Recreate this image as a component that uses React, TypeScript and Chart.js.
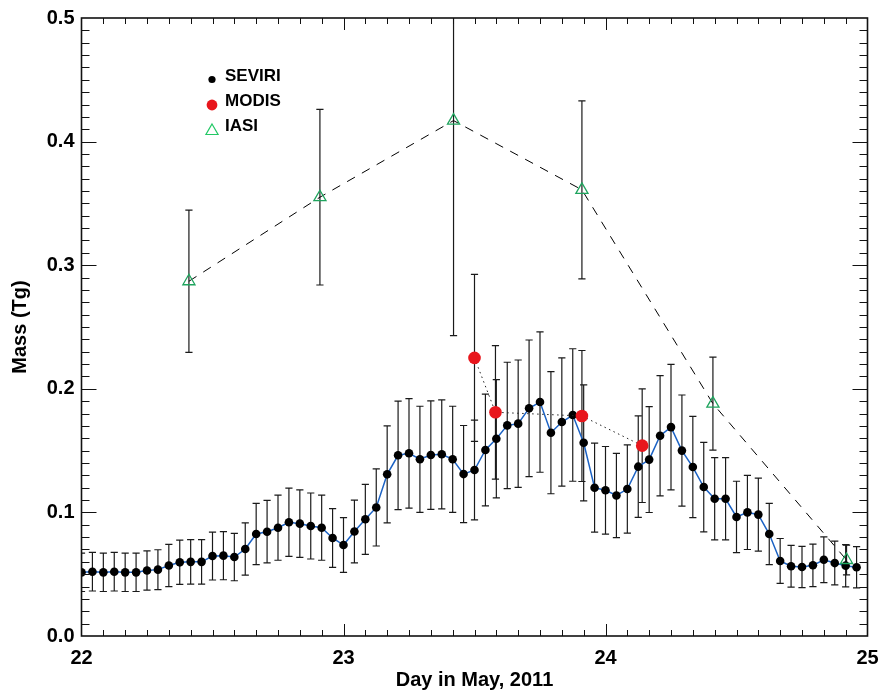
import React, { useEffect, useRef } from "react";
import { Chart, registerables } from "chart.js";

Chart.register(...registerables);

// ---------- data ----------
const SEVIRI_START_DAY = 22; // first SEVIRI retrieval: 22 May 00 UTC
const SEVIRI_STEP_DAYS = 1 / 24; // hourly retrievals
const SEVIRI_MASS = [
  0.0515, 0.052, 0.0515, 0.052, 0.0515, 0.0515, 0.053, 0.0537, 0.057, 0.0596, 0.06, 0.06,
  0.0647, 0.065, 0.0639, 0.0704, 0.0825, 0.0844, 0.0876, 0.092, 0.0909, 0.089, 0.0876, 0.0793,
  0.0736, 0.0846, 0.0944, 0.104, 0.1308, 0.1462, 0.1478, 0.143, 0.1464, 0.147, 0.143, 0.131,
  0.1343, 0.1505, 0.1596, 0.1704, 0.1718, 0.1842, 0.1893, 0.1645, 0.1731, 0.1788, 0.1563, 0.12,
  0.1179, 0.1137, 0.1189, 0.137, 0.1427, 0.162, 0.169, 0.15, 0.1367, 0.1205, 0.111, 0.111,
  0.0963, 0.1, 0.0982, 0.0825, 0.0607, 0.0564, 0.0558, 0.0572, 0.0617, 0.059, 0.0569, 0.0556,
];
const SEVIRI_ERR = [
  0.0155, 0.0156, 0.0155, 0.0156, 0.0155, 0.0155, 0.0159, 0.0161, 0.0171, 0.0179, 0.018, 0.018,
  0.0194, 0.0195, 0.0192, 0.0211, 0.0248, 0.0253, 0.0263, 0.0276, 0.0273, 0.0267, 0.0263, 0.0238,
  0.0221, 0.0254, 0.0283, 0.0312, 0.0392, 0.0439, 0.0443, 0.0429, 0.0439, 0.0441, 0.0429, 0.0393,
  0.0403, 0.0452, 0.0479, 0.0511, 0.0515, 0.0553, 0.0568, 0.0494, 0.0519, 0.0536, 0.0469, 0.036,
  0.0354, 0.0341, 0.0357, 0.0411, 0.0428, 0.0486, 0.0507, 0.045, 0.041, 0.0362, 0.0333, 0.0333,
  0.0289, 0.03, 0.0295, 0.0248, 0.0182, 0.0169, 0.0167, 0.0172, 0.0185, 0.0177, 0.0171, 0.0167,
];

const MODIS_DAY = [23.5, 23.58, 23.91, 24.14];
const MODIS_MASS = [0.225, 0.181, 0.178, 0.154];
const MODIS_ERR = [0.0675, 0.054, 0.053, 0.046];

const IASI_DAY = [22.41, 22.91, 23.42, 23.91, 24.41, 24.92];
const IASI_MASS = [0.287, 0.355, 0.417, 0.361, 0.188, 0.0615];
const IASI_ERR_LOW = [0.0575, 0.071, 0.174, 0.072, 0.0376, 0.012];
const IASI_ERR_HIGH = [0.0575, 0.071, 0.174, 0.072, 0.0376, 0.012];

const X_MIN = 22;
const X_MAX = 25;
const Y_MIN = 0;
const Y_MAX = 0.5;
const X_MAJOR_STEP = 1;
const X_MINOR_STEP = 1 / 12;
const Y_MAJOR_STEP = 0.1;
const Y_MINOR_STEP = 0.01;

const LEGEND_LABELS = ["SEVIRI", "MODIS", "IASI"];
const X_TITLE = "Day in May, 2011";
const Y_TITLE = "Mass (Tg)";

// ---------- styles ----------
const FONT = "'Liberation Sans', Arial, Helvetica, sans-serif";
const BLUE = "#1b62c4";
const RED = "#e8161c";
const GREEN = "#1fa45e";

const seviriPoints = SEVIRI_MASS.map((y, i) => ({ x: SEVIRI_START_DAY + i * SEVIRI_STEP_DAYS, y }));
const modisPoints = MODIS_MASS.map((y, i) => ({ x: MODIS_DAY[i], y }));
const iasiPoints = IASI_MASS.map((y, i) => ({ x: IASI_DAY[i], y }));

const errorBarPlugin = {
  id: "errorBars",
  beforeDatasetsDraw(chart: any) {
    const { ctx, chartArea, scales } = chart;
    const xs = scales.x;
    const ys = scales.y;
    ctx.save();
    ctx.beginPath();
    ctx.rect(chartArea.left, chartArea.top, chartArea.right - chartArea.left, chartArea.bottom - chartArea.top);
    ctx.clip();
    ctx.strokeStyle = "#1a1a1a";
    ctx.lineWidth = 1.2;
    chart.data.datasets.forEach((ds: any) => {
      if (!ds.errLow) return;
      ds.data.forEach((p: any, i: number) => {
        const px = xs.getPixelForValue(p.x);
        const top = ys.getPixelForValue(p.y + ds.errHigh[i]);
        const bot = ys.getPixelForValue(p.y - ds.errLow[i]);
        const cap = 3.6;
        ctx.beginPath();
        ctx.moveTo(px, top);
        ctx.lineTo(px, bot);
        ctx.moveTo(px - cap, top);
        ctx.lineTo(px + cap, top);
        ctx.moveTo(px - cap, bot);
        ctx.lineTo(px + cap, bot);
        ctx.stroke();
      });
    });
    ctx.restore();
  },
};

const framePlugin = {
  id: "frame",
  afterDraw(chart: any) {
    const { ctx, chartArea, scales } = chart;
    const { left, right, top, bottom } = chartArea;
    const xs = scales.x;
    const ys = scales.y;
    ctx.save();
    ctx.strokeStyle = "#111";
    ctx.lineWidth = 1;
    ctx.beginPath();
    // y ticks (left & right)
    const nY = Math.round((Y_MAX - Y_MIN) / Y_MINOR_STEP);
    const perMajorY = Math.round(Y_MAJOR_STEP / Y_MINOR_STEP);
    for (let k = 1; k < nY; k++) {
      const py = Math.round(ys.getPixelForValue(Y_MIN + k * Y_MINOR_STEP)) + 0.5;
      const len = k % perMajorY === 0 ? 15 : 8;
      ctx.moveTo(left, py);
      ctx.lineTo(left + len, py);
      ctx.moveTo(right, py);
      ctx.lineTo(right - len, py);
    }
    // x ticks (bottom & top)
    const nX = Math.round((X_MAX - X_MIN) / X_MINOR_STEP);
    const perMajorX = Math.round(X_MAJOR_STEP / X_MINOR_STEP);
    for (let k = 1; k < nX; k++) {
      const px = Math.round(xs.getPixelForValue(X_MIN + k * X_MINOR_STEP)) + 0.5;
      const len = k % perMajorX === 0 ? 12 : 6;
      ctx.moveTo(px, bottom);
      ctx.lineTo(px, bottom - len);
      ctx.moveTo(px, top);
      ctx.lineTo(px, top + len);
    }
    ctx.stroke();
    ctx.lineWidth = 1.6;
    ctx.strokeRect(left, top, right - left, bottom - top);

    // legend
    const lx = 212;
    const rows = [78, 103, 128];
    ctx.font = `bold 17px ${FONT}`;
    ctx.textBaseline = "middle";
    ctx.textAlign = "left";
    // SEVIRI
    ctx.beginPath();
    ctx.arc(lx, rows[0] + 1.5, 3.6, 0, Math.PI * 2);
    ctx.fillStyle = "#000";
    ctx.fill();
    // MODIS
    ctx.beginPath();
    ctx.arc(lx, rows[1] + 2, 5.4, 0, Math.PI * 2);
    ctx.fillStyle = RED;
    ctx.fill();
    // IASI
    const tr = 7;
    const ty = rows[2] + 3;
    ctx.beginPath();
    ctx.moveTo(lx, ty - tr);
    ctx.lineTo(lx + tr * Math.sin((2 * Math.PI) / 3), ty - tr * Math.cos((2 * Math.PI) / 3));
    ctx.lineTo(lx + tr * Math.sin((4 * Math.PI) / 3), ty - tr * Math.cos((4 * Math.PI) / 3));
    ctx.closePath();
    ctx.strokeStyle = "#22c865";
    ctx.lineWidth = 1.2;
    ctx.stroke();
    ctx.fillStyle = "#000";
    LEGEND_LABELS.forEach((t, i) => ctx.fillText(t, 225, rows[i] - 2));
    ctx.restore();
  },
};

export default function App() {
  const canvasRef = useRef<HTMLCanvasElement | null>(null);

  useEffect(() => {
    const canvas = canvasRef.current;
    if (!canvas) return;
    const chart = new Chart(canvas, {
      type: "line",
      data: {
        datasets: [
          {
            label: "IASI",
            data: iasiPoints,
            borderColor: "#000",
            borderWidth: 1,
            borderDash: [9, 8],
            pointStyle: "triangle",
            pointRadius: 7,
            pointBorderColor: GREEN,
            pointBackgroundColor: "rgba(0,0,0,0)",
            pointBorderWidth: 1.3,
            tension: 0,
            errLow: IASI_ERR_LOW,
            errHigh: IASI_ERR_HIGH,
          } as any,
          {
            label: "MODIS",
            data: modisPoints,
            borderColor: "#222",
            borderWidth: 1,
            borderDash: [1.5, 3.5],
            pointRadius: 6.3,
            pointBorderWidth: 0,
            pointBackgroundColor: RED,
            tension: 0,
            errLow: MODIS_ERR,
            errHigh: MODIS_ERR,
          } as any,
          {
            label: "SEVIRI",
            data: seviriPoints,
            borderColor: BLUE,
            borderWidth: 1.5,
            pointRadius: 4.3,
            pointBorderWidth: 0,
            pointBackgroundColor: "#000",
            tension: 0,
            errLow: SEVIRI_ERR,
            errHigh: SEVIRI_ERR,
          } as any,
        ],
      },
      options: {
        responsive: false,
        animation: false,
        maintainAspectRatio: false,
        layout: { padding: { top: 18, right: 12.5, left: 0, bottom: 0 } },
        plugins: { legend: { display: false }, tooltip: { enabled: false } },
        scales: {
          x: {
            type: "linear",
            min: X_MIN,
            max: X_MAX,
            border: { display: false },
            grid: { display: false, drawTicks: false },
            ticks: {
              stepSize: X_MAJOR_STEP,
              color: "#000",
              padding: 10,
              maxRotation: 0,
              font: { family: FONT, size: 20, weight: "bold" },
              callback: (v: any) => String(v),
            },
            title: {
              display: true,
              text: X_TITLE,
              color: "#000",
              padding: { top: 0, bottom: 1 },
              font: { family: FONT, size: 20, weight: "bold" },
            },
            afterFit: (s: any) => {
              s.height = 57;
              s.paddingLeft = 0;
              s.paddingRight = 0;
            },
          },
          y: {
            type: "linear",
            min: Y_MIN,
            max: Y_MAX,
            border: { display: false },
            grid: { display: false, drawTicks: false },
            ticks: {
              stepSize: Y_MAJOR_STEP,
              color: "#000",
              padding: 7,
              font: { family: FONT, size: 20, weight: "bold" },
              callback: (v: any) => Number(v).toFixed(1),
            },
            title: {
              display: true,
              text: Y_TITLE,
              color: "#000",
              padding: { top: 8, bottom: 0 },
              font: { family: FONT, size: 20, weight: "bold" },
            },
            afterFit: (s: any) => {
              s.width = 81.5;
              s.paddingTop = 0;
              s.paddingBottom = 0;
            },
          },
        },
      } as any,
      plugins: [errorBarPlugin, framePlugin],
    });
    return () => chart.destroy();
  }, []);

  return (
    <div style={{ position: "fixed", left: 0, top: 0, width: 880, height: 693, background: "#fff" }}>
      <canvas ref={canvasRef} width={880} height={693} style={{ display: "block" }} />
    </div>
  );
}
